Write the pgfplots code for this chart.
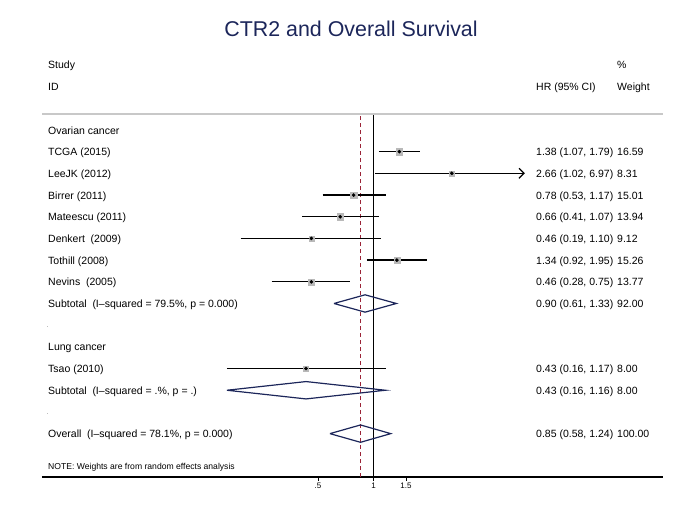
\documentclass[border=0pt]{standalone}
\usepackage{pgfplots}
\pgfplotsset{compat=1.18}
\usepackage{fontspec}
\setmainfont{Liberation Sans}
\usetikzlibrary{arrows.meta}
\definecolor{navy}{RGB}{28,38,90}
\definecolor{dred}{RGB}{155,35,55}
\definecolor{boxgray}{RGB}{185,185,185}
\definecolor{sepgray}{RGB}{200,200,200}
\newcommand{\ft}{\fontsize{10.5}{12}\selectfont}
\newcommand{\dsp}{\hspace{0.55em}}
\begin{document}
\begin{tikzpicture}[x=1pt,y=1pt]
\useasboundingbox (0,0) rectangle (700,-517);
\begin{axis}[
  at={(42pt,-477pt)}, anchor=south west,
  scale only axis, width=621pt, height=363.1pt,
  xmode=log, xmin=0.01586, xmax=37.29,
  ymin=0, ymax=16.74,
  axis x line*=bottom, axis y line=none,
  x axis line style={line width=1.6pt},
  xtick={0.5,1,1.5}, xticklabels={.5,1,1.5},
  minor xtick={}, xminorticks=false,
  tick align=outside, major tick length=4pt,
  tick style={black, line width=0.9pt},
  xticklabel style={font=\fontsize{8}{9}\selectfont, inner sep=2pt},
  ytick=\empty,
  clip=false,
]
% reference lines
\addplot[dred, line width=1.2pt, dash pattern=on 4pt off 3pt] coordinates {(0.85,0) (0.85,16.74)};
\addplot[black, line width=1.6pt] coordinates {(1,0) (1,16.74)};
% TCGA
\addplot[boxgray, only marks, mark=square*, mark size=3.35pt] coordinates {(1.38,15)};
\addplot[black, line width=1.4pt] coordinates {(1.07,15) (1.79,15)};
\addplot[black, only marks, mark=*, mark size=1.6pt] coordinates {(1.38,15)};
% LeeJK
\addplot[boxgray, only marks, mark=square*, mark size=2.4pt] coordinates {(2.66,14)};
\addplot[black, line width=1.4pt, -{Straight Barb[length=5pt,width=10pt,line width=1.2pt]}, shorten >=4pt] coordinates {(1.02,14) (6.97,14)};
\addplot[black, only marks, mark=*, mark size=1.6pt] coordinates {(2.66,14)};
% Birrer
\addplot[boxgray, only marks, mark=square*, mark size=3.2pt] coordinates {(0.78,13)};
\addplot[black, line width=1.4pt] coordinates {(0.53,13) (1.17,13)};
\addplot[black, only marks, mark=*, mark size=1.6pt] coordinates {(0.78,13)};
% Mateescu
\addplot[boxgray, only marks, mark=square*, mark size=3.1pt] coordinates {(0.66,12)};
\addplot[black, line width=1.4pt] coordinates {(0.41,12) (1.07,12)};
\addplot[black, only marks, mark=*, mark size=1.6pt] coordinates {(0.66,12)};
% Denkert
\addplot[boxgray, only marks, mark=square*, mark size=2.5pt] coordinates {(0.46,11)};
\addplot[black, line width=1.4pt] coordinates {(0.19,11) (1.10,11)};
\addplot[black, only marks, mark=*, mark size=1.6pt] coordinates {(0.46,11)};
% Tothill
\addplot[boxgray, only marks, mark=square*, mark size=3.2pt] coordinates {(1.34,10)};
\addplot[black, line width=1.4pt] coordinates {(0.92,10) (1.95,10)};
\addplot[black, only marks, mark=*, mark size=1.6pt] coordinates {(1.34,10)};
% Nevins
\addplot[boxgray, only marks, mark=square*, mark size=3.05pt] coordinates {(0.46,9)};
\addplot[black, line width=1.4pt] coordinates {(0.28,9) (0.75,9)};
\addplot[black, only marks, mark=*, mark size=1.6pt] coordinates {(0.46,9)};
% Subtotal ovarian
\addplot[navy, line width=1.2pt] coordinates {(0.61,8) (0.90,8.4) (1.33,8) (0.90,7.6) (0.61,8)};
% Tsao
\addplot[boxgray, only marks, mark=square*, mark size=2.35pt] coordinates {(0.43,5)};
\addplot[black, line width=1.4pt] coordinates {(0.16,5) (1.17,5)};
\addplot[black, only marks, mark=*, mark size=1.6pt] coordinates {(0.43,5)};
% Subtotal lung
\addplot[navy, line width=1.2pt] coordinates {(0.16,4) (0.43,4.4) (1.16,4) (0.43,3.6) (0.16,4)};
% Overall
\addplot[navy, line width=1.2pt] coordinates {(0.58,2) (0.85,2.4) (1.24,2) (0.85,1.6) (0.58,2)};
\end{axis}
\draw[sepgray, line width=2pt] (42,-113.7) -- (663,-113.7);
\node[anchor=base, font=\fontsize{21.4}{24}\selectfont, text=navy] at (351,-36) {CTR2 and Overall Survival};
\begin{scope}[every node/.style={anchor=base west, font=\ft, inner sep=0pt}]
\node at (48,-68.9) {Study};
\node at (48,-90.0) {ID};
\node at (617,-68.9) {\%};
\node at (536,-90.0) {HR (95\% CI)};
\node at (617,-90.0) {Weight};
\node at (48,-134.5) {Ovarian cancer};
\node at (48,-155.7) {TCGA (2015)};
\node at (48,-177.4) {LeeJK (2012)};
\node at (48,-199.1) {Birrer (2011)};
\node at (48,-220.8) {Mateescu (2011)};
\node at (48,-242.5) {Denkert\dsp(2009)};
\node at (48,-264.2) {Tothill (2008)};
\node at (48,-285.8) {Nevins\dsp(2005)};
\node at (48,-307.5) {Subtotal\dsp(I–squared = 79.5\%, p = 0.000)};
\node at (48,-350.9) {Lung cancer};
\node at (48,-372.6) {Tsao (2010)};
\node at (48,-394.3) {Subtotal\dsp(I–squared = .\%, p = .)};
\node at (48,-437.7) {Overall\dsp(I–squared = 78.1\%, p = 0.000)};
\node at (536,-155.7) {1.38 (1.07, 1.79)};
\node at (536,-177.4) {2.66 (1.02, 6.97)};
\node at (536,-199.1) {0.78 (0.53, 1.17)};
\node at (536,-220.8) {0.66 (0.41, 1.07)};
\node at (536,-242.5) {0.46 (0.19, 1.10)};
\node at (536,-264.2) {1.34 (0.92, 1.95)};
\node at (536,-285.8) {0.46 (0.28, 0.75)};
\node at (536,-307.5) {0.90 (0.61, 1.33)};
\node at (536,-372.6) {0.43 (0.16, 1.17)};
\node at (536,-394.3) {0.43 (0.16, 1.16)};
\node at (536,-437.7) {0.85 (0.58, 1.24)};
\node at (617,-155.7) {16.59};
\node at (617,-177.4) {8.31};
\node at (617,-199.1) {15.01};
\node at (617,-220.8) {13.94};
\node at (617,-242.5) {9.12};
\node at (617,-264.2) {15.26};
\node at (617,-285.8) {13.77};
\node at (617,-307.5) {92.00};
\node at (617,-372.6) {8.00};
\node at (617,-394.3) {8.00};
\node at (617,-437.7) {100.00};
\node[font=\fontsize{5}{6}\selectfont] at (47,-327) {.};
\node[font=\fontsize{5}{6}\selectfont] at (47,-414) {.};
\node[font=\fontsize{8.6}{10}\selectfont] at (48,-469) {NOTE: Weights are from random effects analysis};
\end{scope}
\end{tikzpicture}
\end{document}
